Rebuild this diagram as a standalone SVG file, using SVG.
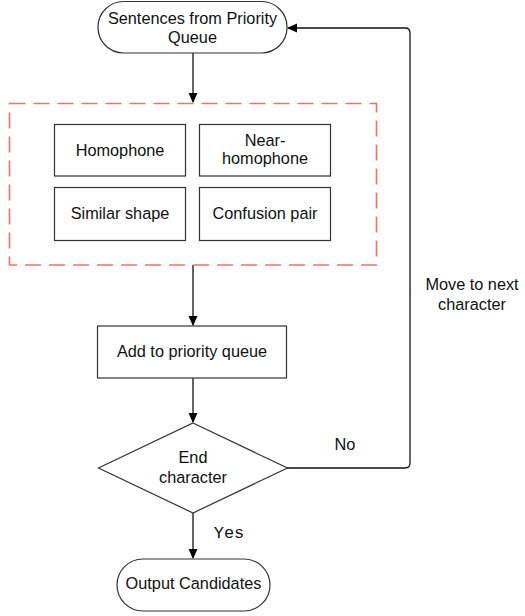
<svg xmlns="http://www.w3.org/2000/svg" width="525" height="616" viewBox="0 0 525 616">
<style>
.n{fill:#fff;stroke:#333;stroke-width:1.2}
.t{font-family:"Liberation Sans",Arial,sans-serif;font-size:16.3px;fill:#111;text-anchor:middle}
.c{fill:none;stroke:#111;stroke-width:1.3}
</style>
<defs>
<marker id="ah" markerWidth="10" markerHeight="10" refX="9" refY="5" orient="auto" markerUnits="userSpaceOnUse">
<path d="M0,0.5 L10,5 L0,9.5 Z" fill="#000"/>
</marker>
</defs>
<rect width="525" height="616" fill="#fff"/>
<g id="connectors">
<line class="c" x1="193" y1="53" x2="193" y2="102" marker-end="url(#ah)"/>
<line class="c" x1="193" y1="265" x2="193" y2="325" marker-end="url(#ah)"/>
<line class="c" x1="193" y1="378" x2="193" y2="422" marker-end="url(#ah)"/>
<line class="c" x1="193" y1="513" x2="193" y2="558" marker-end="url(#ah)"/>
<path class="c" d="M287,468 H405 Q410,468 410,463 V33 Q410,28 405,28 H288" marker-end="url(#ah)"/>
</g>
<g id="start">
<rect class="n" x="98" y="1.5" width="189" height="51.5" rx="25.5"/>
<text class="t" x="192.5" y="23.5">Sentences from Priority</text>
<text class="t" x="192.5" y="42.5">Queue</text>
</g>
<g id="group">
<rect x="9.5" y="103.5" width="367" height="161.5" fill="none" stroke="#ff6b6b" stroke-width="1.6" stroke-dasharray="16 8"/>
</g>
<g id="homophone">
<rect class="n" x="54.5" y="124.5" width="131" height="51.5"/>
<text class="t" x="120" y="155.5">Homophone</text>
</g>
<g id="near-homophone">
<rect class="n" x="199.5" y="124.5" width="131" height="51.5"/>
<text class="t" x="265" y="145.5">Near-</text>
<text class="t" x="265" y="164">homophone</text>
</g>
<g id="similar-shape">
<rect class="n" x="54.5" y="187.5" width="131" height="53"/>
<text class="t" x="120" y="219">Similar shape</text>
</g>
<g id="confusion-pair">
<rect class="n" x="199.5" y="187.5" width="131" height="53"/>
<text class="t" x="265" y="219">Confusion pair</text>
</g>
<g id="add">
<rect class="n" x="97.5" y="326" width="189" height="52"/>
<text class="t" x="192" y="357">Add to priority queue</text>
</g>
<g id="end">
<path class="n" d="M193,423 L287.5,468 L193,513 L98.5,468 Z"/>
<text class="t" x="193" y="462.5">End</text>
<text class="t" x="193" y="482.5">character</text>
</g>
<g id="output">
<rect class="n" x="117" y="559" width="153" height="52" rx="26"/>
<text class="t" x="193.5" y="589">Output Candidates</text>
</g>
<g id="labels">
<text class="t" x="345" y="450">No</text>
<text class="t" x="472" y="290">Move to next</text>
<text class="t" x="472" y="310">character</text>
<text x="229" y="538" style="font-family:'Liberation Mono','Courier New',monospace;font-size:17px;fill:#111;text-anchor:middle">Yes</text>
</g>
</svg>
